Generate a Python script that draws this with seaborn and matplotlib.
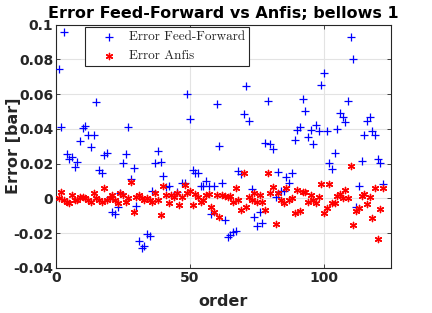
import numpy as np
import pandas as pd
import matplotlib
matplotlib.use("Agg")
import matplotlib.pyplot as plt
import seaborn as sns

# ---------------- data ----------------
order_ff = [1, 2, 3, 4, 5, 6, 7, 8, 9, 10, 11, 12, 13, 14, 15, 16, 17, 18, 19, 20,
            21, 22, 23, 24, 25, 26, 27, 28, 29, 30, 31, 32, 33, 34, 35, 36, 37, 38, 39, 40,
            41, 42, 45, 47, 48, 49, 50, 51, 52, 53, 54, 55, 56, 57, 58, 59, 60,
            61, 62, 63, 64, 65, 66, 67, 68, 69, 70, 71, 72, 73, 74, 75, 76, 77, 78, 79, 80,
            81, 82, 83, 84, 85, 86, 87, 88, 89, 90, 91, 92, 93, 94, 95, 96, 97, 98, 99, 100,
            101, 102, 103, 104, 105, 106, 107, 108, 109, 110, 111, 112, 113, 114, 115, 116,
            117, 118, 119, 120, 121, 122]
err_ff = [0.0742, 0.0413, 0.0959, 0.0254, 0.0227, 0.0237, 0.0183, 0.0212, 0.0332, 0.0403,
          0.0417, 0.0365, 0.0294, 0.0365, 0.0554, 0.0164, 0.0145, 0.0250, 0.0260, 0.0010,
          -0.0076, -0.0090, -0.0050, 0.0030, 0.0206, 0.0256, 0.0409, 0.0112, 0.0173, -0.0043,
          -0.0244, -0.0287, -0.0273, -0.0206, -0.0216, 0.0045, 0.0202, 0.0275, 0.0208, 0.0131,
          0.0068, 0.0074, 0.0035, 0.0087, 0.0087, 0.0600, 0.0455, 0.0164, 0.0148, 0.0148,
          0.0072, 0.0074, 0.0103, 0.0072, -0.0089, 0.0074, 0.0541,
          0.0304, 0.0087, -0.0124, -0.0223, -0.0210, -0.0194, -0.0185, 0.0158, 0.0141, 0.0484,
          0.0646, 0.0447, 0.0053, -0.0104, -0.0158, -0.0076, -0.0139, 0.0317, 0.0562, 0.0313,
          0.0283, 0.0010, 0.0152, 0.0045, 0.0045, 0.0126, 0.0087, 0.0145, 0.0336, 0.0394,
          0.0409, 0.0570, 0.0505, 0.0355, 0.0394, 0.0313, 0.0422, 0.0390, 0.0652, 0.0719,
          0.0388, 0.0206, 0.0168, 0.0263, 0.0397, 0.0493, 0.0470, 0.0441, 0.0560, 0.0926,
          0.0802, -0.0047, 0.0074, 0.0216, 0.0365, 0.0445, 0.0467, 0.0390, 0.0365, 0.0225,
          0.0206, 0.0081]

order_anfis = list(range(1, 123))
err_anfis = [0.0000, 0.0039, -0.0010, -0.0018, -0.0024, 0.0020, -0.0010, -0.0010, 0.0010, 0.0010,
             0.0000, -0.0010, -0.0018, 0.0030, 0.0000, -0.0010, -0.0018, 0.0058, -0.0010, 0.0000,
             0.0020, -0.0010, -0.0024, 0.0034, 0.0020, -0.0018, 0.0000, 0.0095, -0.0076, 0.0010,
             0.0017, 0.0000, -0.0010, 0.0000, -0.0010, -0.0018, 0.0030, -0.0010, -0.0095, 0.0074,
             0.0020, -0.0028, 0.0020, 0.0010, 0.0030, -0.0037, 0.0010, 0.0077, 0.0030, 0.0040,
             -0.0040, 0.0026, 0.0010, -0.0018, -0.0010, 0.0020, 0.0026, -0.0047, -0.0076, 0.0020,
             -0.0104, 0.0020, 0.0016, 0.0010, 0.0014, -0.0018, 0.0058, -0.0010, -0.0066, 0.0145,
             -0.0047, 0.0010, -0.0010, 0.0030, -0.0018, 0.0020, -0.0018, -0.0066, 0.0145, 0.0034,
             0.0068, -0.0147, 0.0034, -0.0010, -0.0024, 0.0058, -0.0010, 0.0000, -0.0081, 0.0049,
             -0.0070, 0.0035, 0.0035, -0.0018, 0.0020, -0.0010, -0.0028, 0.0010, 0.0083, -0.0081,
             -0.0053, 0.0081, -0.0028, -0.0024, 0.0015, 0.0026, 0.0000, 0.0049, 0.0000, 0.0189,
             -0.0152, -0.0072, -0.0053, 0.0016, 0.0026, -0.0032, 0.0010, -0.0114, 0.0058, -0.0233,
             -0.0062, 0.0062]

series_labels = ["Error Feed-Forward", "Error Anfis"]
yticks = [-0.04, -0.02, 0, 0.02, 0.04, 0.06, 0.08, 0.1]
ytick_labels = ["-0.04", "-0.02", "0", "0.02", "0.04", "0.06", "0.08", "0.1"]
xticks = [0, 50, 100]
xtick_labels = ["0", "50", "100"]
title = "Error Feed-Forward vs Anfis; bellows 1"
xlabel = "order"
ylabel = "Error [bar]"

# ---------------- plot ----------------
sns.set_theme(style="white")
plt.rcParams['font.family'] = ['DejaVu Sans']

df_ff = pd.DataFrame({"order": order_ff, "err": err_ff})
df_an = pd.DataFrame({"order": order_anfis, "err": err_anfis})

fig = plt.figure(figsize=(4.32, 3.13), dpi=100)
ax = fig.add_axes([0.1296, 0.1438, 0.7755, 0.7779])

sns.scatterplot(data=df_ff, x="order", y="err", ax=ax, marker="+", color="#0000ff",
                s=36, linewidth=0.9, label=series_labels[0], zorder=3)
sns.scatterplot(data=df_an, x="order", y="err", ax=ax, marker=(6, 2, 0), color="#ff0000",
                s=20, linewidth=1.0, label=series_labels[1], zorder=4)

ax.set_xlim(0, 125)
ax.set_ylim(-0.04, 0.1)
ax.set_xticks(xticks)
ax.set_xticklabels(xtick_labels)
ax.set_yticks(yticks)
ax.set_yticklabels(ytick_labels)

dark = "#262626"
ax.grid(True, color="#e3e3e3", linewidth=0.8)
ax.set_axisbelow(True)
for sp in ax.spines.values():
    sp.set_visible(True)
    sp.set_color(dark)
    sp.set_linewidth(0.8)
ax.tick_params(direction="in", length=3, width=0.6, colors=dark,
               top=True, right=True, bottom=True, left=True, labelsize=10, pad=2)
for lab in ax.get_xticklabels() + ax.get_yticklabels():
    lab.set_fontweight("bold")
    lab.set_color(dark)

ax.set_title(title, fontsize=11.5, fontweight="bold", color="black", pad=5)
ax.set_xlabel(xlabel, fontsize=11.5, fontweight="bold", color=dark, labelpad=7)
ax.set_ylabel(ylabel, fontsize=11.5, fontweight="bold", color=dark)
ax.yaxis.set_label_coords(-0.105, 0.5)

leg = ax.legend(loc="upper left", bbox_to_anchor=(0.087, 0.99), frameon=True,
                fancybox=False, framealpha=1, edgecolor=dark, borderpad=0.3,
                handletextpad=0.05, handlelength=3.0, labelspacing=0.5, borderaxespad=0,
                prop={"family": ["cmr10", "DejaVu Serif"], "size": 9.5})
leg.get_frame().set_linewidth(0.8)

fig.savefig("out.png", dpi=100)
